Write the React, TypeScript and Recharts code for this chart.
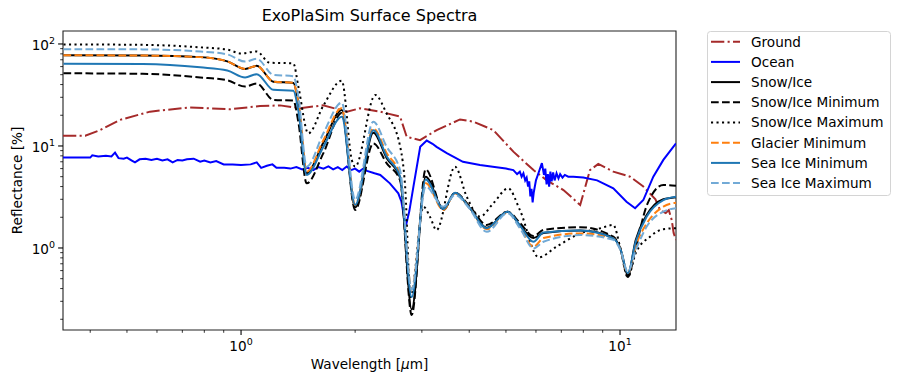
import React from 'react';
import { LineChart, Line, XAxis, YAxis, ReferenceArea } from 'recharts';

// wavelength grids [µm]
const ICE_WL = [0.34, 0.55, 0.78, 0.92, 1.025, 1.1, 1.217, 1.374, 1.417, 1.49, 1.649, 1.844, 2.0, 2.234, 2.423, 2.628, 2.82, 3.07, 3.42, 3.67, 4.0, 4.45, 5.05, 5.45, 5.91, 6.28, 7.85, 9.6, 10.05, 10.48, 11.0, 11.76, 13.01, 14.05];
const MAX_WL = [0.34, 0.55, 0.78, 0.92, 1.0, 1.1, 1.19, 1.374, 1.417, 1.505, 1.65, 1.844, 1.96, 2.0, 2.26, 2.42, 2.63, 2.71, 2.8, 3.03, 3.15, 3.28, 3.67, 3.94, 4.27, 4.63, 5.07, 5.44, 6.1, 6.8, 7.85, 8.87, 9.6, 10.0, 10.48, 11.0, 12.0, 13.0, 14.05];
const GROUND_WL = [0.339, 0.388, 0.4246, 0.479, 0.575, 0.733, 0.935, 1.122, 1.267, 1.431, 1.646, 1.904, 2.061, 2.327, 2.628, 2.736, 2.967, 3.283, 3.782, 4.102, 4.632, 5.23, 5.91, 6.41, 7.09, 7.85, 8.33, 8.76, 9.6, 10.63, 11.52, 12.4, 12.75, 13.2, 13.45, 13.69, 13.85, 14.05];
const OCEAN_WL = [0.339, 0.4, 0.405, 0.42, 0.44, 0.455, 0.465, 0.475, 0.49, 0.5, 0.515, 0.525, 0.54, 0.56, 0.58, 0.6, 0.62, 0.64, 0.66, 0.68, 0.7, 0.72, 0.75, 0.78, 0.8, 0.83, 0.86, 0.9, 0.95, 1.0, 1.06, 1.1, 1.13, 1.17, 1.21, 1.24, 1.3, 1.35, 1.4, 1.45, 1.5, 1.55, 1.6, 1.65, 1.7, 1.75, 1.8, 1.85, 1.9, 1.95, 2.0, 2.05, 2.1, 2.15, 2.25, 2.33, 2.47, 2.6, 2.65, 2.72, 2.78, 2.85, 2.97, 3.09, 3.2, 3.28, 3.49, 3.85, 4.27, 4.72, 5.0, 5.23, 5.35, 5.44, 5.5, 5.56, 5.62, 5.67, 5.72, 5.76, 5.8, 5.84, 5.88, 5.92, 6.0, 6.1, 6.22, 6.3, 6.35, 6.4, 6.45, 6.5, 6.55, 6.6, 6.66, 6.72, 6.8, 6.88, 6.95, 7.05, 7.15, 7.3, 7.53, 8.0, 8.7, 9.6, 10.4, 10.96, 11.52, 12.24, 13.01, 14.05];

// reflectance [%]
const GROUND = [12.6, 12.6, 14.3, 18, 21.7, 23.9, 22.9, 24.6, 25, 23.5, 25, 21.7, 23.4, 21.7, 19.4, 12.3, 11.4, 14.3, 18.2, 17.3, 14.3, 8.8, 5.8, 4.6, 3.7, 2.64, 5.8, 6.66, 5.6, 5.0, 4.0, 3.0, 2.36, 2.2, 2.35, 1.88, 1.4, 1.2];
const OCEAN = [7.7, 7.7, 8.1, 7.9, 8.0, 7.9, 8.6, 7.6, 7.5, 7.7, 7.2, 6.9, 7.4, 7.5, 7.3, 7.5, 7.2, 7.4, 6.9, 7.3, 7.2, 7.4, 7.5, 7.0, 7.2, 6.9, 7.1, 6.6, 6.6, 6.5, 6.6, 6.9, 6.1, 6.4, 6.6, 6.1, 6.1, 6.0, 6.2, 5.9, 6.1, 5.8, 6.2, 6.0, 6.3, 5.9, 6.2, 5.8, 6.3, 5.8, 6.0, 5.6, 6.0, 5.7, 5.4, 5.2, 4.3, 3.43, 2.84, 1.62, 2.3, 4.0, 9.8, 11.3, 10.5, 9.8, 8.5, 7.0, 6.5, 6.17, 6.0, 5.8, 5.3, 5.6, 5.0, 5.4, 4.6, 4.9, 4.0, 4.5, 3.2, 3.8, 2.8, 3.5, 4.6, 5.5, 6.8, 5.2, 6.0, 4.2, 5.3, 4.0, 5.6, 4.5, 5.5, 4.6, 5.4, 4.8, 5.3, 4.9, 5.2, 5.0, 5.0, 4.9, 4.6, 3.84, 2.84, 2.45, 2.95, 5.0, 7.3, 10.6];
const SNOW_ICE = [77.5, 77, 74.3, 67.5, 56.9, 61, 42.7, 41.5, 26, 5.4, 10.8, 22.5, 2.5, 13.5, 7.6, 4.9, 0.25, 5.0, 2.4, 3.45, 2.5, 1.58, 2.26, 1.65, 1.25, 1.4, 1.48, 1.26, 0.95, 0.54, 1.2, 2.1, 3.0, 3.15];
const SNOW_ICE_MIN = [51.6, 51, 47, 44, 38.2, 41, 28.3, 27.9, 17, 4.3, 8.5, 21, 2.36, 10.6, 6.76, 4.6, 0.22, 5.9, 2.36, 3.48, 2.6, 1.68, 2.27, 1.75, 1.31, 1.5, 1.6, 1.29, 0.95, 0.52, 1.0, 2.6, 4.15, 4.07];
const SNOW_ICE_MAX = [99, 98, 92.7, 88, 80.8, 84.3, 65.5, 64.5, 38, 13.3, 25, 43.6, 7.3, 6.27, 31.6, 20.9, 9.8, 4.0, 0.33, 2.54, 2.03, 1.5, 6.27, 3.18, 2.03, 2.74, 3.84, 2.36, 0.81, 1.03, 1.39, 1.56, 1.68, 1.03, 0.52, 0.89, 1.29, 1.53, 1.56];
const GLACIER_MIN = [77.5, 77, 74.3, 67.5, 56.9, 61, 42.7, 41.5, 26, 5.6, 11.4, 23.4, 2.64, 14.9, 8.5, 5.2, 0.39, 4.3, 2.36, 3.43, 2.5, 1.53, 2.22, 1.6, 1.03, 1.25, 1.39, 1.24, 0.95, 0.565, 1.05, 1.74, 2.54, 2.78];
const SEA_ICE_MIN = [64, 63.5, 59, 55, 47, 50.6, 35.5, 34.8, 22, 5.2, 9.8, 19.3, 2.64, 14.3, 7.9, 5.0, 0.33, 4.7, 2.41, 3.48, 2.5, 1.56, 2.27, 1.65, 1.15, 1.42, 1.48, 1.24, 0.95, 0.565, 1.15, 2.03, 2.95, 3.18];
const SEA_ICE_MAX = [89, 88.5, 84.3, 79, 67.2, 71.5, 49.8, 48.3, 30, 6.27, 13.3, 26.6, 2.95, 17.3, 9.8, 5.8, 0.39, 4.0, 2.54, 3.31, 2.45, 1.44, 2.19, 1.55, 0.99, 1.15, 1.34, 1.2, 0.93, 0.585, 0.95, 1.62, 2.27, 2.45];

const X_TICKS = [0.4, 0.5, 0.6, 0.7, 0.8, 0.9, 1, 2, 3, 4, 5, 6, 7, 8, 9, 10];
const Y_TICKS = [0.2, 0.3, 0.4, 0.5, 0.6, 0.7, 0.8, 0.9, 1, 2, 3, 4, 5, 6, 7, 8, 9, 10, 20, 30, 40, 50, 60, 70, 80, 90, 100];
const X_DOMAIN = [0.339, 14.05];
const Y_DOMAIN = [0.157, 134];

const FONT = '"DejaVu Sans", sans-serif';
const DASHED = '7.7 3.3';
const DOTTED = '2.1 3.4';
const DASHDOT = '13.3 3.3 2.1 3.3';

const pts = (wl: number[], r: number[]) => wl.map((w, i) => ({ w, r: r[i] }));

const SERIES = [
  { name: 'Ground', data: pts(GROUND_WL, GROUND), color: '#a52a2a', dash: DASHDOT, curve: 'linear' },
  { name: 'Ocean', data: pts(OCEAN_WL, OCEAN), color: '#0000ff', dash: undefined, curve: 'linear' },
  { name: 'Snow/Ice', data: pts(ICE_WL, SNOW_ICE), color: '#000000', dash: undefined, curve: 'monotone' },
  { name: 'Snow/Ice Minimum', data: pts(ICE_WL, SNOW_ICE_MIN), color: '#000000', dash: DASHED, curve: 'monotone' },
  { name: 'Snow/Ice Maximum', data: pts(MAX_WL, SNOW_ICE_MAX), color: '#000000', dash: DOTTED, curve: 'monotone' },
  { name: 'Glacier Minimum', data: pts(ICE_WL, GLACIER_MIN), color: '#ff7f0e', dash: DASHED, curve: 'monotone' },
  { name: 'Sea Ice Minimum', data: pts(ICE_WL, SEA_ICE_MIN), color: '#1f77b4', dash: undefined, curve: 'monotone' },
  { name: 'Sea Ice Maximum', data: pts(ICE_WL, SEA_ICE_MAX), color: '#72aad6', dash: DASHED, curve: 'monotone' },
];

const isDecade = (v: number) => Math.abs(Math.log10(v) - Math.round(Math.log10(v))) < 1e-6;

const XTick = (props: any) => {
  const { x, y, payload } = props;
  const major = isDecade(payload.value);
  const exp = Math.round(Math.log10(payload.value));
  return (
    <g>
      <line x1={x} x2={x} y1={y} y2={y + (major ? 4.9 : 2.8)} stroke="#000" strokeWidth={major ? 1.1 : 0.8} />
      {major && (
        <text x={x} y={y + 21} textAnchor="middle" fontSize={13.6} fontFamily={FONT} fill="#000">
          10<tspan dy={-6} fontSize={9.5}>{exp}</tspan>
        </text>
      )}
    </g>
  );
};

const YTick = (props: any) => {
  const { x, y, payload } = props;
  const major = isDecade(payload.value);
  const exp = Math.round(Math.log10(payload.value));
  return (
    <g>
      <line x1={x - (major ? 4.9 : 2.8)} x2={x} y1={y} y2={y} stroke="#000" strokeWidth={major ? 1.1 : 0.8} />
      {major && (
        <text x={x - 8} y={y + 6} textAnchor="end" fontSize={13.6} fontFamily={FONT} fill="#000">
          10<tspan dy={-6} fontSize={9.5}>{exp}</tspan>
        </text>
      )}
    </g>
  );
};

const xLabel = (props: any) => {
  const vb = props.viewBox;
  return (
    <text x={vb.x + vb.width / 2} y={vb.y + 39} textAnchor="middle" fontSize={13.6} fontFamily={FONT} fill="#000">
      Wavelength [<tspan fontStyle="italic">μ</tspan>m]
    </text>
  );
};

const yLabel = (props: any) => {
  const vb = props.viewBox;
  const cx = vb.x + 22;
  const cy = vb.y + vb.height / 2;
  return (
    <text x={cx} y={cy} transform={`rotate(-90, ${cx}, ${cy})`} textAnchor="middle" fontSize={13.6} fontFamily={FONT} fill="#000">
      Reflectance [%]
    </text>
  );
};

const Title = () => (
  <svg width={900} height={30} style={{ position: 'absolute', left: 0, top: 0, pointerEvents: 'none' }}>
    <text x={369.5} y={21} textAnchor="middle" fontSize={16} fontFamily={FONT} fill="#000">
      ExoPlaSim Surface Spectra
    </text>
  </svg>
);

const SpectraLegend = () => (
  <svg width={186} height={168} style={{ position: 'absolute', left: 706, top: 30 }}>
    <rect x={1.5} y={1.5} width={183} height={164} rx={3} fill="#fff" fillOpacity={0.8} stroke="#d4d4d4" strokeWidth={1} />
    {SERIES.map((s, i) => {
      const cy = 11.7 + i * 20.2;
      return (
        <g key={s.name}>
          <line x1={5} x2={34} y1={cy} y2={cy} stroke={s.color} strokeWidth={2} strokeDasharray={s.dash} />
          <text x={45} y={cy + 4.9} fontSize={13.6} fontFamily={FONT} fill="#000">{s.name}</text>
        </g>
      );
    })}
  </svg>
);

export default function App() {
  return (
    <div style={{ position: 'absolute', left: 0, top: 0, width: 900, height: 385, background: '#fff', fontFamily: FONT }}>
      <LineChart width={900} height={385} margin={{ top: 31, right: 224, bottom: 0, left: 0 }}>
        <XAxis
          dataKey="w"
          type="number"
          scale="log"
          domain={X_DOMAIN}
          allowDataOverflow
          ticks={X_TICKS}
          interval={0}
          height={55}
          tickSize={0}
          tickMargin={0}
          tickLine={false}
          tick={<XTick />}
          axisLine={false}
          label={xLabel}
        />
        <YAxis
          type="number"
          scale="log"
          domain={Y_DOMAIN}
          allowDataOverflow
          ticks={Y_TICKS}
          interval={0}
          width={63}
          tickSize={0}
          tickMargin={0}
          tickLine={false}
          tick={<YTick />}
          axisLine={false}
          label={yLabel}
        />
        {SERIES.map(s => (
          <Line
            key={s.name}
            data={s.data}
            dataKey="r"
            name={s.name}
            type={s.curve as any}
            stroke={s.color}
            strokeWidth={2}
            strokeDasharray={s.dash}
            dot={false}
            activeDot={false}
            isAnimationActive={false}
          />
        ))}
        <ReferenceArea
          x1={X_DOMAIN[0]}
          x2={X_DOMAIN[1]}
          y1={Y_DOMAIN[0]}
          y2={Y_DOMAIN[1]}
          fill="none"
          stroke="#222"
          strokeWidth={1.1}
          ifOverflow="visible"
        />
      </LineChart>
      <Title />
      <SpectraLegend />
    </div>
  );
}
